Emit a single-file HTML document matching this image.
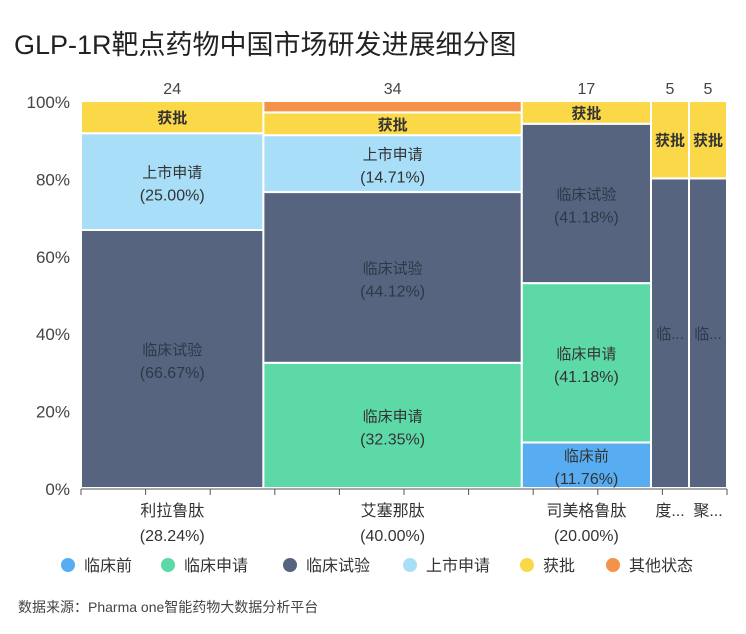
<!DOCTYPE html>
<html><head><meta charset="utf-8">
<style>
body{margin:0;background:#fff;}
svg{display:block;font-family:"Liberation Sans","Noto Sans CJK SC",sans-serif;}
</style></head>
<body>
<svg id="chart" width="746" height="634" viewBox="0 0 746 634">
<text x="14" y="54" font-size="27" fill="#222">GLP-1R靶点药物中国市场研发进展细分图</text>
<g id="yaxis"></g>
<g id="bars"></g>
<g id="xaxis"></g>
<g id="legend"></g>
<text x="18" y="612" font-size="14" fill="#444">数据来源：Pharma one智能药物大数据分析平台</text>
</svg>
<script>
const categories = ["利拉鲁肽","艾塞那肽","司美格鲁肽","度...","聚..."];
const stages = ["临床前","临床申请","临床试验","上市申请","获批","其他状态"];
const colors = ["#58adf2","#5dd9a8","#56647f","#a9def8","#fbd848","#f5924a"];
const preclinical = [0,0,2,0,0];
const clinicalApp = [0,11,7,0,0];
const clinicalTrial = [16,15,7,4,4];
const marketApp = [6,5,0,0,0];
const approved = [2,2,1,1,1];
const other = [0,1,0,0,0];
const yTicks = ["0%","20%","40%","60%","80%","100%"];
const series = [preclinical,clinicalApp,clinicalTrial,marketApp,approved,other];
const NS="http://www.w3.org/2000/svg";
const X0=81,X1=727,Y0=488,Y1=101;
function mk(tag,attrs,parent,txt){const e=document.createElementNS(NS,tag);for(const k in attrs)e.setAttribute(k,attrs[k]);if(txt!==undefined)e.textContent=txt;parent.appendChild(e);return e;}
const xs=f=>X0+f*(X1-X0);
const ys=f=>Y0-f*(Y0-Y1);
const totals=categories.map((c,i)=>series.reduce((s,a)=>s+a[i],0));
const grand=totals.reduce((a,b)=>a+b,0);
const yg=document.getElementById('yaxis');
yTicks.forEach((t,i)=>{const el=mk('text',{x:70,y:ys(i/5)+7,'font-size':17,fill:'#444','text-anchor':'end'},yg,t);

});
const bg=document.getElementById('bars');
const xg=document.getElementById('xaxis');
let cum=0;
categories.forEach((c,i)=>{
  const xa=xs(cum/grand), xb=xs((cum+totals[i])/grand), w=xb-xa, cx=(xa+xb)/2;
  const tl=mk('text',{x:cx,y:94,'font-size':16,fill:'#444','text-anchor':'middle'},bg,String(totals[i]));
  
  
  let c2=0;
  series.forEach((s,k)=>{
    const v=s[i]; if(!v) return;
    const f0=c2/totals[i], f1=(c2+v)/totals[i]; c2+=v;
    const ya=ys(f1), yb=ys(f0);
    const r=mk('rect',{x:xa,y:ya,width:w,height:yb-ya,fill:colors[k],stroke:'#fff','stroke-width':2},bg);
    
    
    const h=yb-ya, my=(ya+yb)/2;
    const tc=k===2?'#2f3848':'#333';
    if(w<50){
      const txt=h<80?stages[k]:stages[k].slice(0,1)+'...';
      const t=mk('text',{x:cx,y:my+6,'font-size':15,fill:tc,'text-anchor':'middle','font-weight':h<80?'bold':'normal'},bg,txt);
      
    } else if(h<40){
      if(h>12){const t=mk('text',{x:cx,y:my+6,'font-size':15,fill:'#333','text-anchor':'middle','font-weight':'bold'},bg,stages[k]);
        }
    } else {
      const pct=(v/totals[i]*100).toFixed(2)+'%';
      const t=mk('text',{x:cx,y:my-4,'font-size':15,fill:tc,'text-anchor':'middle'},bg,stages[k]);
      
      const p=mk('text',{x:cx,y:my+19,'font-size':16,fill:tc,'text-anchor':'middle'},bg,'('+pct+')');
      
    }
  });
  const lab=mk('text',{x:cx,y:516,'font-size':16,fill:'#333','text-anchor':'middle'},xg,c);
  
  
  if(w>50){const p=mk('text',{x:cx,y:541,'font-size':16,fill:'#333','text-anchor':'middle'},xg,'('+(totals[i]/grand*100).toFixed(2)+'%)');
    }
  cum+=totals[i];
});
const ax=mk('line',{x1:X0,y1:Y0+1,x2:X1,y2:Y0+1,stroke:'#555','stroke-width':1},xg);


for(let t=0;t<=10;t++){const tk=mk('line',{x1:xs(t/10),y1:Y0+1,x2:xs(t/10),y2:Y0+7,stroke:'#555'},xg);
  }
const lg=document.getElementById('legend');
const lx=[68,168,290,410,527,613];
stages.forEach((s,k)=>{
  const c=mk('circle',{cx:lx[k],cy:565,r:7,fill:colors[k]},lg);
  
  
  const t=mk('text',{x:lx[k]+16,y:571,'font-size':16,fill:'#333'},lg,s);
  
  
});
</script>
</body></html>
